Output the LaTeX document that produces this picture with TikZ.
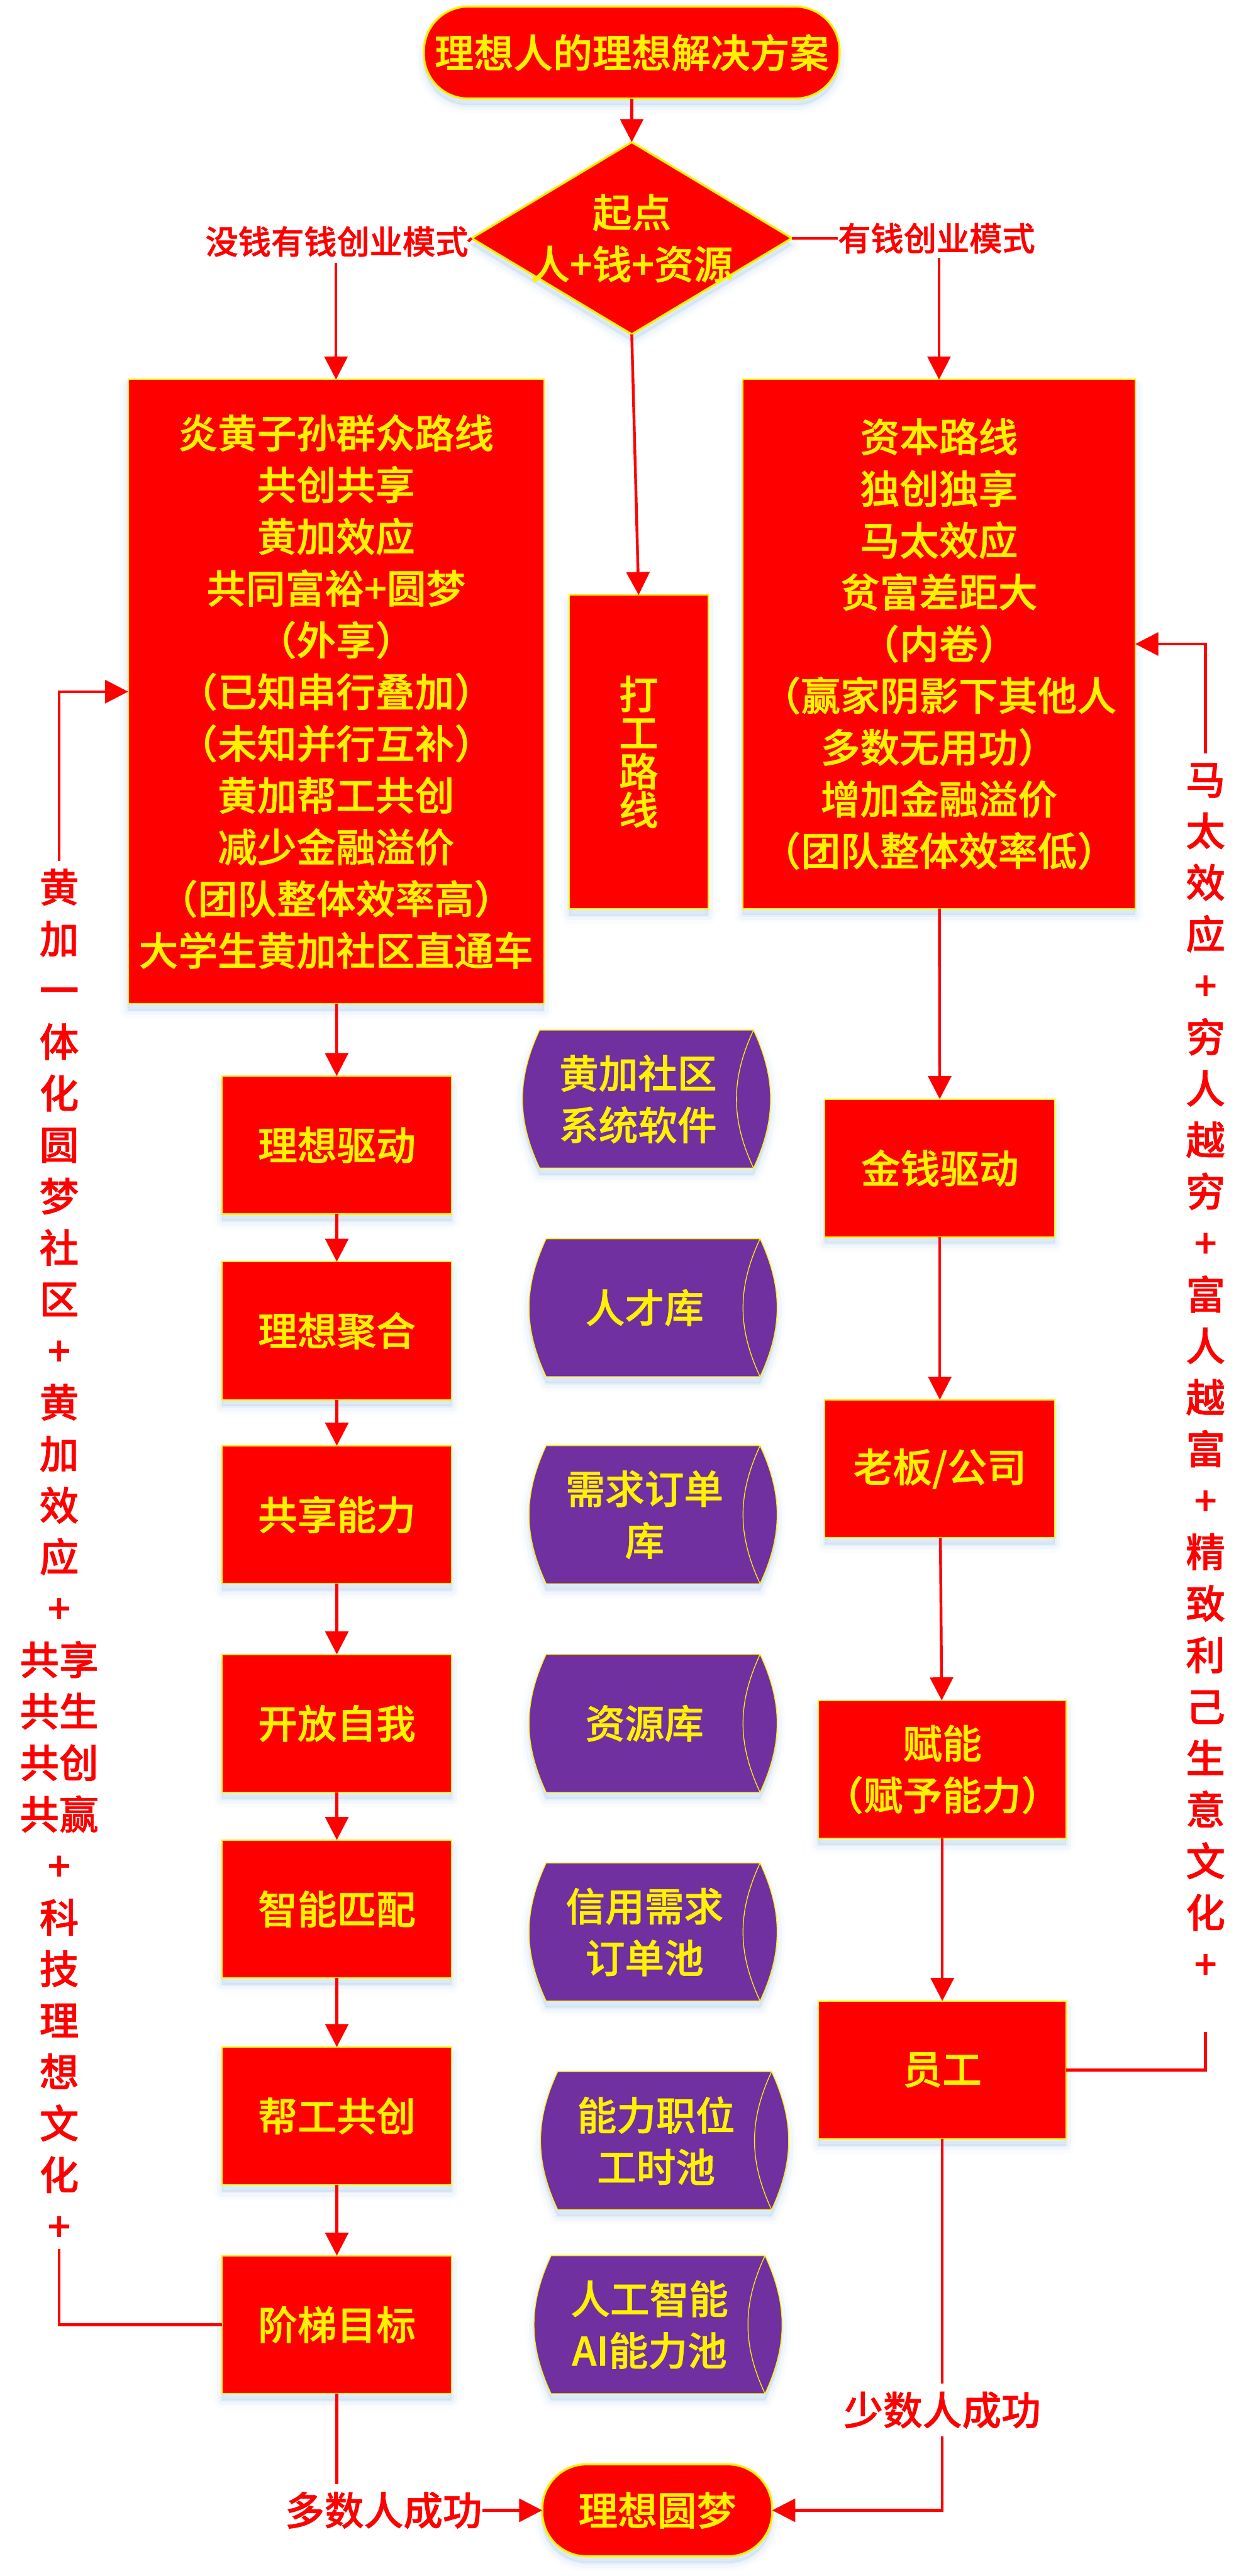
\documentclass[tikz,border=0pt]{standalone}
\usepackage{fontspec}
\setmainfont{Noto Sans CJK SC}[BoldFont={Noto Sans CJK SC Medium}, BoldFeatures={FakeBold=1}]
\usetikzlibrary{arrows.meta, shapes.geometric, backgrounds}
\definecolor{drumpurple}{RGB}{112,48,160}
\definecolor{shadowblue}{RGB}{91,155,213}

\begin{document}
\begin{tikzpicture}[
            x=1pt, y=-1pt,
            font={\fontsize{24pt}{31.5pt}\selectfont\bfseries\lineskiplimit=-30pt},
            softshadow/.style={
                preaction={draw=shadowblue, fill=shadowblue, line width=10pt, line join=round, opacity=.03, transform canvas={yshift=-4pt}},
                preaction={draw=shadowblue, fill=shadowblue, line width=6pt, line join=round, opacity=.05, transform canvas={yshift=-4pt}},
                preaction={draw=shadowblue, fill=shadowblue, line width=2pt, line join=round, opacity=.07, transform canvas={yshift=-4pt}}
            },
            box/.style={rectangle, softshadow, draw=yellow, fill=red, line width=.8pt, text=yellow, align=center, inner sep=0pt, outer sep=0pt},
            proc/.style={box, minimum width=140pt, minimum height=84pt},
            pill/.style={box, line width=1.3pt, rounded corners=27pt, minimum height=56pt},
            drum/.style={rectangle, text=yellow, align=center, inner sep=0pt, outer sep=0pt, minimum width=140.6pt, minimum height=84pt},
            lbl/.style={text=red, align=center, inner sep=0pt, outer sep=0pt},
            small/.style={lbl, font={\fontsize{20pt}{24pt}\selectfont\bfseries}},
            side/.style={lbl, font={\fontsize{24pt}{31.35pt}\selectfont\bfseries\lineskiplimit=-30pt}},
            flow/.style={-{Triangle[length=14pt, width=14pt]}, draw=red, line width=1.7pt},
            wire/.style={draw=red, line width=1.7pt}
        ]
        \useasboundingbox (0,0) rectangle (758,1568);

        % top of the chart
        \node[pill, minimum width=253pt] (title) at (384.5,32) {理想人的理想解决方案};
        \node[box, diamond, aspect=1.66, line width=1.3pt, inner sep=-4pt, minimum width=195pt, minimum height=117pt] (start) at (384.5,145) {起点\\人+钱+资源};
        \node[small, minimum height=26pt] (nomoney) at (205,147) {没钱有钱创业模式};
        \node[small, minimum height=24pt] (money) at (570,145) {有钱创业模式};

        % the three routes
        \node[box, minimum width=253pt, minimum height=380pt] (mass) at (204.5,421) {炎黄子孙群众路线\\共创共享\\黄加效应\\共同富裕+圆梦\\（外享）\\（已知串行叠加）\\（未知并行互补）\\黄加帮工共创\\减少金融溢价\\（团队整体效率高）\\大学生黄加社区直通车};
        \node[box, minimum width=84.5pt, minimum height=191pt, font={\fontsize{24pt}{23.5pt}\selectfont\bfseries\lineskiplimit=-30pt}] (labor) at (388.7,457.7) {打\\工\\路\\线};
        \node[box, minimum width=239pt, minimum height=322pt] (capital) at (571.5,392) {资本路线\\独创独享\\马太效应\\贫富差距大\\（内卷）\\（赢家阴影下其他人\\多数无用功）\\增加金融溢价\\（团队整体效率低）};

        % left column
        \node[proc] (ideal) at (205,697) {理想驱动};
        \node[proc] (gather) at (205,810) {理想聚合};
        \node[proc] (share) at (205,922) {共享能力};
        \node[proc] (open) at (205,1049) {开放自我};
        \node[proc] (match) at (205,1162) {智能匹配};
        \node[proc] (help) at (205,1288) {帮工共创};
        \node[proc] (steps) at (205,1415) {阶梯目标};

        % middle column
        \node[drum] (soft) at (388.3,669) {黄加社区\\系统软件};
        \node[drum] (talent) at (392.3,796) {人才库};
        \node[drum] (orders) at (392.3,922) {需求订单\\库};
        \node[drum] (res) at (392.3,1049) {资源库};
        \node[drum] (credit) at (392.3,1176) {信用需求\\订单池};
        \node[drum] (hours) at (399.3,1303) {能力职位\\工时池};
        \node[drum] (ai) at (395.3,1415) {人工智能\\AI能力池};
        \begin{scope}[on background layer]
            \foreach \d in {soft, talent, orders, res, credit, hours, ai} {
                \draw[softshadow, draw=yellow, fill=drumpurple, line width=.5pt]
                    ([xshift=10.4pt]\d.north west) -- (\d.north east) to[bend left=25] (\d.south east)
                    -- ([xshift=10.4pt]\d.south west) to[bend left=25] ([xshift=10.4pt]\d.north west) -- cycle;
                \draw[draw=yellow, line width=.5pt] (\d.north east) to[bend right=25] (\d.south east);
            }
        \end{scope}

        % right column
        \node[proc] (cash) at (572,711) {金钱驱动};
        \node[proc] (boss) at (572,894) {老板/公司};
        \node[proc, minimum width=151pt] (enable) at (573.5,1077) {赋能\\（赋予能力）};
        \node[proc, minimum width=151pt] (staff) at (573.5,1260) {员工};

        % bottom of the chart
        \node[pill, minimum width=140pt] (dream) at (400,1528) {理想圆梦};
        \node[lbl, minimum height=32pt] (many) at (233.5,1528) {多数人成功};
        \node[lbl, minimum height=32pt] (few) at (573.5,1467) {少数人成功};

        % feedback labels
        \node[side, minimum height=845pt] (huangjia) at (36,946.5) {黄\\加\\一\\体\\化\\圆\\梦\\社\\区\\+\\黄\\加\\效\\应\\+\\共享\\共生\\共创\\共赢\\+\\科\\技\\理\\想\\文\\化\\+};
        \node[side, minimum height=752pt] (matthew) at (733.7,834.5) {马\\太\\效\\应\\+\\穷\\人\\越\\穷\\+\\富\\人\\越\\富\\+\\精\\致\\利\\己\\生\\意\\文\\化\\+};

        % Connectors
        \draw[flow] (title) -- (start);
        \draw[wire] (start.west) -- (nomoney.east);
        \draw[wire] (start.east) -- (money.west);
        \draw[flow] (mass.north |- nomoney.south) -- (mass.north);
        \draw[flow] (capital.north |- money.south) -- (capital.north);
        \draw[flow] (start.south) -- (labor.north);
        \draw[flow] (mass) -- (ideal);
        \draw[flow] (ideal) -- (gather);
        \draw[flow] (gather) -- (share);
        \draw[flow] (share) -- (open);
        \draw[flow] (open) -- (match);
        \draw[flow] (match) -- (help);
        \draw[flow] (help) -- (steps);
        \draw[flow] (capital) -- (cash);
        \draw[flow] (cash) -- (boss);
        \draw[flow] (boss) -- (enable);
        \draw[flow] (enable) -- (staff);
        \draw[wire] (steps.south) -- (steps.south |- many.north);
        \draw[flow] (many.east) -- (dream.west);
        \draw[wire] (staff.south) -- (few.north);
        \draw[flow] (few.south) |- (dream.east);
        \draw[wire] (steps.west) -| (huangjia.south);
        \draw[flow] (huangjia.north) |- (mass.west);
        \draw[wire] (staff.east) -| ([yshift=-26.3pt]matthew.south);
        \draw[flow] (matthew.north) |- (capital.east);
    \end{tikzpicture}
\end{document}
